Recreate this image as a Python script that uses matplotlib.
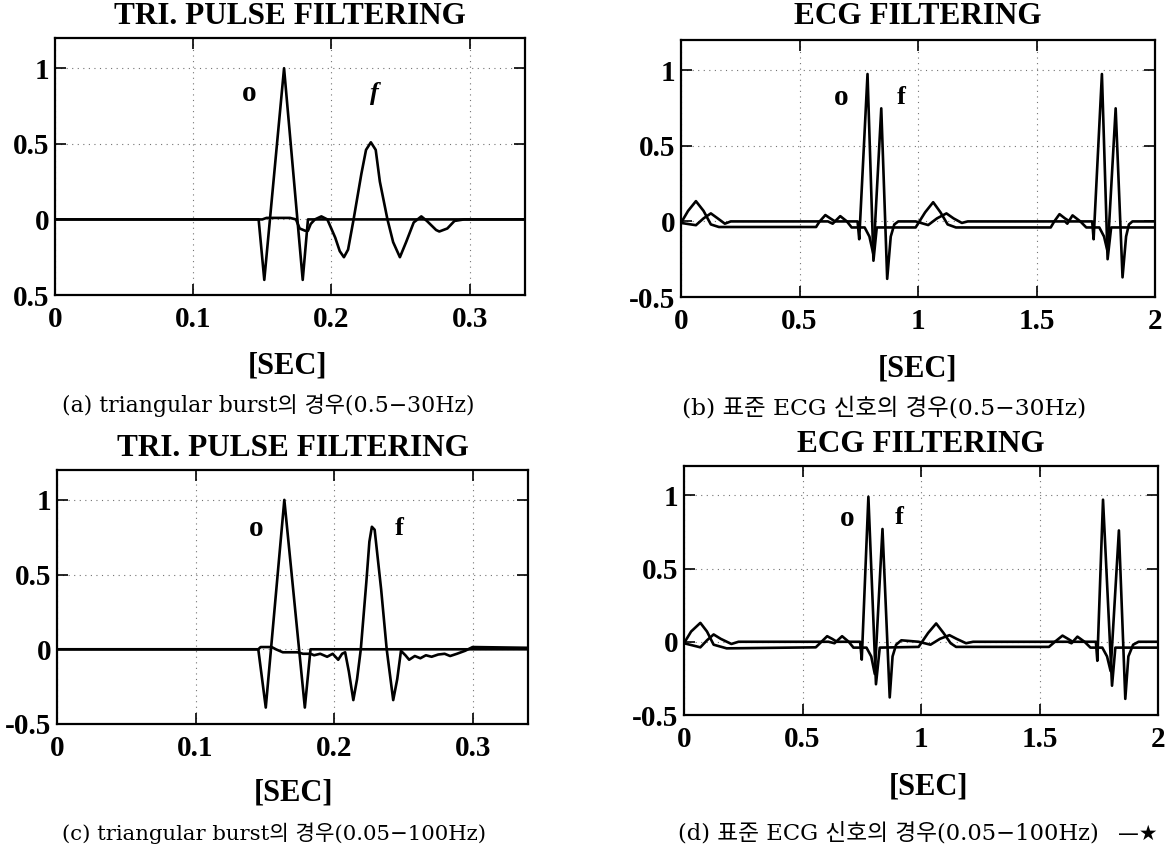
import matplotlib
matplotlib.use("Agg")
import matplotlib.pyplot as plt

# ---------------- data ----------------
# (a) triangular burst, 0.5-30 Hz
a_o_t = [0, 0.1473, 0.1514, 0.1657, 0.1792, 0.1830, 0.34]
a_o_v = [0, 0, -0.40, 1.00, -0.40, 0, 0]
a_f_t = [0, 0.150, 0.153, 0.160, 0.170, 0.1743, 0.177, 0.181, 0.183, 0.185, 0.188,
         0.1927, 0.197, 0.2027, 0.206, 0.209, 0.212, 0.216, 0.2216, 0.225, 0.2285,
         0.232, 0.235, 0.2405, 0.2446, 0.2495, 0.254, 0.2595, 0.265, 0.269, 0.2757,
         0.278, 0.2838, 0.289, 0.296, 0.34]
a_f_v = [0, 0, 0.01, 0.01, 0.01, 0.0, -0.06, -0.075, -0.075, -0.03, 0.0,
         0.02, 0.0, -0.12, -0.21, -0.25, -0.20, 0.0, 0.30, 0.46, 0.51,
         0.46, 0.25, 0.0, -0.15, -0.25, -0.15, -0.02, 0.02, -0.01, -0.07,
         -0.08, -0.06, -0.01, 0.0, 0.0]

# (c) triangular burst, 0.05-100 Hz
c_o_t = [0, 0.1453, 0.1507, 0.1641, 0.1789, 0.1830, 0.34]
c_o_v = [0, 0, -0.39, 1.00, -0.39, 0, 0]
c_f_t = [0, 0.1453, 0.147, 0.155, 0.158, 0.163, 0.1735, 0.1776, 0.183, 0.1856,
         0.190, 0.195, 0.199, 0.203, 0.2058, 0.208, 0.2107, 0.2139, 0.2166, 0.2193,
         0.2233, 0.2255, 0.2273, 0.2293, 0.234, 0.238, 0.2427, 0.2456, 0.2483, 0.2515,
         0.2542, 0.2583, 0.2623, 0.2663, 0.2704, 0.2752, 0.2798, 0.2838, 0.2887,
         0.2946, 0.300, 0.34]
c_f_v = [0, 0, 0.015, 0.015, 0.0, -0.02, -0.02, -0.03, -0.03, -0.04,
         -0.03, -0.05, -0.03, -0.07, -0.03, -0.02, -0.15, -0.34, -0.20, 0.0,
         0.45, 0.72, 0.82, 0.80, 0.40, 0.0, -0.34, -0.20, -0.01, -0.04,
         -0.07, -0.045, -0.06, -0.04, -0.05, -0.035, -0.03, -0.045, -0.03,
         -0.01, 0.015, 0.01]

# (b) standard ECG, 0.5-30 Hz
b_o_t = [0.0, 0.03, 0.063, 0.095, 0.126, 0.16, 0.57, 0.585, 0.609, 0.63, 0.65,
         0.745, 0.752, 0.787, 0.812, 0.826, 0.99, 1.03, 1.064, 1.095, 1.125, 1.16,
         1.56, 1.575, 1.597, 1.62, 1.64, 1.735, 1.741, 1.776, 1.80, 1.815, 2.0]
b_o_v = [-0.01, 0.07, 0.134, 0.07, -0.02, -0.037, -0.037, 0.0, 0.042, 0.02, 0.0,
         0.0, -0.118, 0.975, -0.26, -0.04, -0.04, 0.06, 0.127, 0.06, -0.02, -0.04,
         -0.04, 0.0, 0.048, 0.02, 0.0, 0.0, -0.118, 0.975, -0.25, -0.04, -0.04]
b_f_t = [0.0, 0.063, 0.095, 0.126, 0.155, 0.185, 0.21, 0.62, 0.64, 0.672, 0.70,
         0.72, 0.775, 0.795, 0.812, 0.845, 0.87, 0.885, 0.90, 0.917, 0.99, 1.043,
         1.08, 1.12, 1.15, 1.185, 1.21, 1.62, 1.63, 1.652, 1.685, 1.71, 1.765,
         1.785, 1.80, 1.834, 1.863, 1.878, 1.89, 1.905, 2.0]
b_f_v = [-0.01, -0.025, 0.02, 0.053, 0.02, -0.015, 0.0, 0.0, -0.015, 0.035, 0.0,
         -0.04, -0.04, -0.10, -0.22, 0.748, -0.38, -0.10, -0.02, 0.0, 0.0, -0.024,
         0.02, 0.053, 0.02, -0.01, 0.0, 0.0, -0.015, 0.04, 0.0, -0.04, -0.04,
         -0.10, -0.20, 0.748, -0.37, -0.10, -0.02, 0.0, 0.0]

# (d) standard ECG, 0.05-100 Hz
d_o_t = [0.0, 0.03, 0.069, 0.097, 0.125, 0.18, 0.556, 0.58, 0.604, 0.625, 0.645,
         0.743, 0.75, 0.778, 0.81, 0.826, 0.99, 1.03, 1.064, 1.095, 1.125, 1.148,
         1.54, 1.565, 1.597, 1.62, 1.64, 1.738, 1.744, 1.768, 1.806, 1.82, 2.0]
d_o_v = [-0.01, 0.07, 0.129, 0.07, -0.02, -0.045, -0.038, 0.0, 0.038, 0.02, 0.0,
         0.0, -0.122, 0.99, -0.29, -0.04, -0.035, 0.06, 0.125, 0.06, -0.01, -0.035,
         -0.035, 0.0, 0.042, 0.02, 0.0, 0.0, -0.13, 0.97, -0.30, -0.04, -0.04]
d_f_t = [0.0, 0.069, 0.097, 0.125, 0.155, 0.20, 0.23, 0.61, 0.635, 0.667, 0.695,
         0.715, 0.77, 0.79, 0.805, 0.8375, 0.868, 0.88, 0.895, 0.917, 0.99, 1.04,
         1.08, 1.12, 1.15, 1.19, 1.22, 1.62, 1.635, 1.66, 1.69, 1.715, 1.765,
         1.785, 1.80, 1.835, 1.862, 1.875, 1.895, 1.918, 2.0]
d_f_v = [-0.01, -0.038, 0.01, 0.05, 0.02, -0.015, 0.0, 0.0, -0.01, 0.038, 0.0,
         -0.04, -0.04, -0.10, -0.22, 0.77, -0.38, -0.10, -0.02, 0.01, 0.0, -0.02,
         0.02, 0.045, 0.02, -0.01, 0.0, 0.0, -0.01, 0.035, 0.0, -0.04, -0.04,
         -0.10, -0.20, 0.76, -0.39, -0.10, -0.02, 0.0, 0.0]

tri_xticks = [0, 0.1, 0.2, 0.3]
tri_xlabels = ["0", "0.1", "0.2", "0.3"]
ecg_xticks = [0, 0.5, 1, 1.5, 2]
ecg_xlabels = ["0", "0.5", "1", "1.5", "2"]
yticks = [-0.5, 0, 0.5, 1]
ylabels_a = ["0.5", "0", "0.5", "1"]
ylabels = ["-0.5", "0", "0.5", "1"]

titles = ["TRI. PULSE FILTERING", "ECG FILTERING", "TRI. PULSE FILTERING", "ECG FILTERING"]
captions = ["(a) triangular burst의 경우(0.5\u221230Hz)",
            "(b) 표준 ECG 신호의 경우(0.5\u221230Hz)",
            "(c) triangular burst의 경우(0.05\u2212100Hz)",
            "(d) 표준 ECG 신호의 경우(0.05\u2212100Hz)"]
xlabel = "[SEC]"

# ---------------- layout ----------------
W, H = 1175, 849
fig = plt.figure(figsize=(W / 100, H / 100), dpi=100)
fig.patch.set_facecolor("white")
renderer = fig.canvas.get_renderer()

SERIF = ["Liberation Serif", "DejaVu Serif"]
CAP = ["DejaVu Serif", "Noto Sans CJK KR", "DejaVu Sans"]


def px_axes(l, r, t, b):
    return fig.add_axes([l / W, 1 - b / H, (r - l) / W, (b - t) / H])


def fig_text(x, y, s, **kw):
    kw.setdefault("ha", "center")
    return fig.text(x / W, 1 - y / H, s, va="center", **kw)


def fit_caption(x0, x1, y, s):
    t = fig_text(x0, y, s, ha="left", fontsize=14, family=CAP)
    w = t.get_window_extent(renderer).width
    t.set_fontsize(14 * (x1 - x0) / w)
    return t


panels = [
    dict(box=(55, 525, 38, 295), o=(a_o_t, a_o_v), f=(a_f_t, a_f_v), xlim=0.34,
         xt=tri_xticks, xl=tri_xlabels, yl=ylabels_a, op=(0.1405, 0.83), fp=(0.231, 0.83),
         ty=17, sec=(288, 366), cap=(62, 475, 405), fstyle="italic"),
    dict(box=(681, 1155, 40, 297), o=(b_o_t, b_o_v), f=(b_f_t, b_f_v), xlim=2.0,
         xt=ecg_xticks, xl=ecg_xlabels, yl=ylabels, op=(0.675, 0.82), fp=(0.928, 0.82),
         ty=17, sec=(918, 369), cap=(682, 1087, 408), fstyle="normal"),
    dict(box=(57, 528, 470, 724), o=(c_o_t, c_o_v), f=(c_f_t, c_f_v), xlim=0.34,
         xt=tri_xticks, xl=tri_xlabels, yl=ylabels, op=(0.144, 0.81), fp=(0.247, 0.81),
         ty=448, sec=(294, 793), cap=(62, 488, 833), fstyle="normal"),
    dict(box=(684, 1158, 466, 715), o=(d_o_t, d_o_v), f=(d_f_t, d_f_v), xlim=2.0,
         xt=ecg_xticks, xl=ecg_xlabels, yl=ylabels, op=(0.69, 0.84), fp=(0.907, 0.85),
         ty=445, sec=(928, 787), cap=(678, 1100, 833), fstyle="normal"),
]

for i, p in enumerate(panels):
    l, r, t, b = p["box"]
    ax = px_axes(l, r, t, b)
    ax.plot(p["o"][0], p["o"][1], color="black", lw=1.9, solid_joinstyle="round")
    ax.plot(p["f"][0], p["f"][1], color="black", lw=1.9, solid_joinstyle="round")
    ax.set_xlim(0, p["xlim"])
    ax.set_ylim(-0.5, 1.2)
    ax.set_xticks(p["xt"])
    ax.set_xticklabels(p["xl"])
    ax.set_yticks(yticks)
    ax.set_yticklabels(p["yl"])
    ax.tick_params(direction="in", length=8, width=1.2, top=True, right=True,
                   labelsize=21, pad=4)
    ax.tick_params(axis="x", pad=8)
    for lab in ax.get_xticklabels() + ax.get_yticklabels():
        lab.set_family(SERIF)
        lab.set_fontweight("bold")
    for sp in ax.spines.values():
        sp.set_linewidth(1.6)
    ax.grid(True, linestyle=(0, (1, 4)), color="0.45", linewidth=0.8)
    ax.text(p["op"][0], p["op"][1], "o", ha="center", va="center", fontsize=21,
            fontweight="bold", family=SERIF)
    ax.text(p["fp"][0], p["fp"][1], "f", ha="center", va="center", fontsize=19,
            fontweight="bold", family=SERIF, style=p["fstyle"])
    fig_text((l + r) / 2, p["ty"], titles[i], fontsize=22.5, fontweight="bold", family=SERIF)
    fig_text(p["sec"][0], p["sec"][1], xlabel, fontsize=22, fontweight="bold", family=SERIF)
    x0, x1, cy = p["cap"]
    fit_caption(x0, x1, cy, captions[i])

# small mark after caption (d)
fig_text(1138, 834, "\u2014\u2605", fontsize=15, family=["DejaVu Sans"])

fig.savefig("out.png", dpi=100, facecolor="white")
